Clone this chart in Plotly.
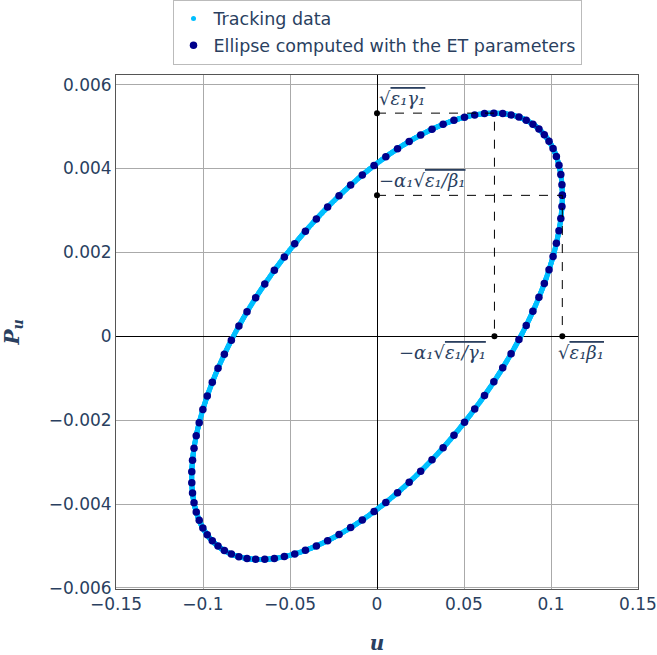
import numpy as np
import plotly.graph_objects as go

sqrt_eps_beta = 0.1065        # u of the point  sqrt(eps1*beta1)
sqrt_eps_gamma = 0.00532      # Pu of the point sqrt(eps1*gamma1)
u_at_pu_max = 0.0675          # -alpha1*sqrt(eps1/gamma1)
pu_at_u_max = 0.00336         # -alpha1*sqrt(eps1/beta1)

n_ellipse_points = 100        # dark dots counted on the ellipse
n_tracking_turns = 2000
tune = 0.3137

# ---- ET (Twiss) parameters derived from the read values ----
alpha_eps = -pu_at_u_max * sqrt_eps_beta
eps = np.sqrt((sqrt_eps_beta * sqrt_eps_gamma) ** 2 - alpha_eps ** 2)
alpha = alpha_eps / eps
sqrt_eps_over_beta = eps / sqrt_eps_beta

def ellipse(phase):
    u = sqrt_eps_beta * np.cos(phase)
    pu = -sqrt_eps_over_beta * (alpha * np.cos(phase) + np.sin(phase))
    return u, pu

phi = np.linspace(0, 2 * np.pi, n_ellipse_points)
ell_u, ell_p = ellipse(phi)
turns = np.arange(n_tracking_turns)
trk_u, trk_p = ellipse(2 * np.pi * tune * turns)

# reference points
pt_u = [0, 0, u_at_pu_max, sqrt_eps_beta]
pt_p = [sqrt_eps_gamma, pu_at_u_max, 0, 0]

text_color = "#2a3f5f"
math_font = dict(family="DejaVu Serif", size=18, color=text_color)

fig = go.Figure()
fig.add_trace(go.Scatter(x=trk_u, y=trk_p, mode="markers", name="Tracking data",
                         legendgroup="a",
                         marker=dict(color="#00BFFF", size=5)))
fig.add_trace(go.Scatter(x=ell_u, y=ell_p, mode="markers",
                         name="Ellipse computed with the ET parameters",
                         legendgroup="b",
                         marker=dict(color="#00008B", size=7.5)))
# dashed guide lines
fig.add_trace(go.Scatter(
    x=[pt_u[0], pt_u[2], pt_u[2], None, pt_u[1], pt_u[3], pt_u[3]],
    y=[pt_p[0], pt_p[0], pt_p[2], None, pt_p[1], pt_p[1], pt_p[3]],
    mode="lines", line=dict(color="black", width=1, dash="dash"),
    showlegend=False, hoverinfo="skip"))
fig.add_trace(go.Scatter(x=pt_u, y=pt_p, mode="markers",
                         marker=dict(color="black", size=6), showlegend=False))

def sq(s):
    return "√<span style='text-decoration:overline'>" + s + "</span>"

labels = [
    (sq("ε₁γ₁"), pt_u[0], pt_p[0], "left", "bottom", 0, 2),
    ("−α₁" + sq("ε₁/β₁"), pt_u[1], pt_p[1], "left", "bottom", 0, 2),
    ("−α₁" + sq("ε₁/γ₁"), pt_u[2], pt_p[2], "right", "top", -6, -4),
    (sq("ε₁β₁"), pt_u[3], pt_p[3], "left", "top", -6, -4),
]
for txt, x, y, xa, ya, xs, ys in labels:
    fig.add_annotation(x=x, y=y, text="<i>" + txt + "</i>", showarrow=False,
                       xanchor=xa, yanchor=ya, xshift=xs, yshift=ys, font=math_font)

axis_common = dict(showgrid=True, gridcolor="#aaaaaa", gridwidth=1,
                   zeroline=True, zerolinecolor="black", zerolinewidth=1,
                   showline=True, linecolor="#555555", linewidth=1, mirror=True,
                   ticks="", tickfont=dict(size=17), automargin=False)

fig.update_layout(
    width=657, height=655,
    margin=dict(l=116, r=19, t=75, b=66, autoexpand=False),
    paper_bgcolor="white", plot_bgcolor="white",
    font=dict(family="DejaVu Sans", size=17, color=text_color),
    xaxis=dict(range=[-0.15, 0.15], dtick=0.05,
               title=dict(text="<b><i>u</i></b>", standoff=26,
                          font=dict(family="DejaVu Serif", size=20)),
               **axis_common),
    yaxis=dict(range=[-0.006024, 0.006229], dtick=0.002,
               title=dict(text="<b><i>P<sub>u</sub></i></b>", standoff=30,
                          font=dict(family="DejaVu Serif", size=20)),
               **axis_common),
    legend=dict(x=0.5, xanchor="center", xref="paper",
                y=1 - 64.5 / 655, yanchor="bottom", yref="container",
                bordercolor="#bbbbbb", borderwidth=1, bgcolor="white",
                tracegroupgap=1, font=dict(size=17.5)),
    showlegend=True,
)

fig.write_html("out.html")
